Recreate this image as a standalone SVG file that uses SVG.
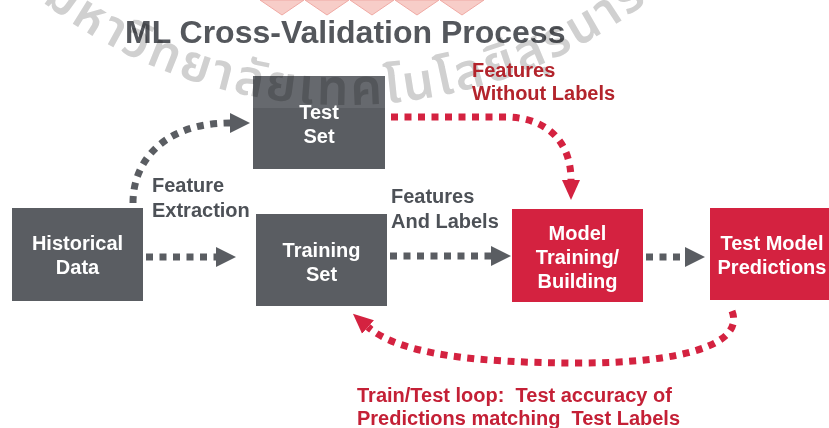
<svg xmlns="http://www.w3.org/2000/svg" width="829" height="428" viewBox="0 0 829 428">
  <style>
    .box-gray { fill: #5a5d62; }
    .box-red { fill: #d42240; }
    .node-text { font-family: "Liberation Sans", Arial, sans-serif; font-weight: bold; font-size: 20px; fill: #ffffff; text-anchor: middle; }
    .label-gray { font-family: "Liberation Sans", Arial, sans-serif; font-weight: bold; font-size: 20px; fill: #4d5157; }
    .label-red { font-family: "Liberation Sans", Arial, sans-serif; font-weight: bold; font-size: 20px; fill: #b3242c; }
    .label-loop { font-family: "Liberation Sans", Arial, sans-serif; font-weight: bold; font-size: 20px; fill: #c42036; white-space: pre; }
    .title { font-family: "Liberation Sans", Arial, sans-serif; font-weight: bold; font-size: 32px; fill: #54575c; }
    .dot-gray { fill: none; stroke: #5a5d62; stroke-width: 7; stroke-dasharray: 7 6.5; }
    .dot-red { fill: none; stroke: #d42240; stroke-width: 7; stroke-dasharray: 7 6.5; }
    .watermark { font-family: "Noto Sans Thai", "Noto Sans", "DejaVu Sans", sans-serif; font-size: 50px; font-weight: 600; fill: #d0d0d0; letter-spacing: 3px; mix-blend-mode: multiply; }
  </style>
  <defs>
    <marker id="arrow-gray" markerUnits="userSpaceOnUse" viewBox="0 0 20 20" markerWidth="20" markerHeight="20" refX="0" refY="10" orient="auto">
      <path d="M0,0 L20,10 L0,20 z" fill="#5a5d62"/>
    </marker>
    <marker id="arrow-red" markerUnits="userSpaceOnUse" viewBox="0 0 20 20" markerWidth="20" markerHeight="20" refX="0" refY="10" orient="auto">
      <path d="M0,1 L20,10 L0,19 z" fill="#d42240"/>
    </marker>
    <path id="wm-arc" d="M -5,-40 A 495 495 0 0 0 695,-40"/>
  </defs>

  <rect width="829" height="428" fill="#ffffff"/>

  <g id="logo" fill="#f7cdc8" stroke="#f0aaa4" stroke-width="1">
    <polygon points="260,0 304,0 282,15"/>
    <polygon points="305,0 349,0 327,15"/>
    <polygon points="350,0 394,0 372,15"/>
    <polygon points="395,0 439,0 417,15"/>
    <polygon points="440,0 484,0 462,15"/>
  </g>

  <text id="title" class="title" x="125" y="43">ML Cross-Validation Process</text>

  <g id="historical-data">
    <rect class="box-gray" x="12" y="208" width="131" height="93"/>
    <text class="node-text" x="77.5" y="250">Historical</text>
    <text class="node-text" x="77.5" y="274">Data</text>
  </g>

  <g id="test-set">
    <rect class="box-gray" x="253" y="76" width="132" height="93"/>
    <rect x="253" y="76" width="132" height="32" fill="#ffffff" opacity="0.08"/>
    <text class="node-text" x="319" y="119">Test</text>
    <text class="node-text" x="319" y="143">Set</text>
  </g>

  <g id="training-set">
    <rect class="box-gray" x="256" y="214" width="131" height="92"/>
    <text class="node-text" x="321.5" y="257">Training</text>
    <text class="node-text" x="321.5" y="281">Set</text>
  </g>

  <g id="model-training">
    <rect class="box-red" x="512" y="209" width="131" height="93"/>
    <text class="node-text" x="577.5" y="240">Model</text>
    <text class="node-text" x="577.5" y="264">Training/</text>
    <text class="node-text" x="577.5" y="288">Building</text>
  </g>

  <g id="test-model-predictions">
    <rect class="box-red" x="710" y="208" width="131" height="92"/>
    <text class="node-text" x="772" y="250">Test Model</text>
    <text class="node-text" x="772" y="274">Predictions</text>
  </g>

  <g id="watermark">
    <text class="watermark"><textPath href="#wm-arc" startOffset="62">มหาวิทยาลัยเทคโนโลยีสุรนารี</textPath></text>
  </g>

  <g id="connectors">
    <path class="dot-gray" d="M133,203 C133,160 165,123 230,123" marker-end="url(#arrow-gray)"/>
    <path class="dot-gray" d="M146,257 L216,257" marker-end="url(#arrow-gray)"/>
    <path class="dot-gray" d="M390,256 L491,256" marker-end="url(#arrow-gray)"/>
    <path class="dot-gray" d="M646,257 L685,257" marker-end="url(#arrow-gray)"/>
    <path class="dot-red" d="M391,117 L505,117 C545,117 571,140 571,180" marker-end="url(#arrow-red)"/>
    <path class="dot-red" d="M732,311 C745,345 680,363 580,363 C480,363 400,355 368,327" marker-end="url(#arrow-red)"/>
  </g>

  <g id="labels">
    <text class="label-gray" x="152" y="192">Feature</text>
    <text class="label-gray" x="152" y="217">Extraction</text>
    <text class="label-gray" x="391" y="203">Features</text>
    <text class="label-gray" x="391" y="228">And Labels</text>
    <text class="label-red" x="472" y="77">Features</text>
    <text class="label-red" x="472" y="100">Without Labels</text>
    <text class="label-loop" x="357" y="402">Train/Test loop:  Test accuracy of</text>
    <text class="label-loop" x="357" y="425">Predictions matching  Test Labels</text>
  </g>
</svg>
